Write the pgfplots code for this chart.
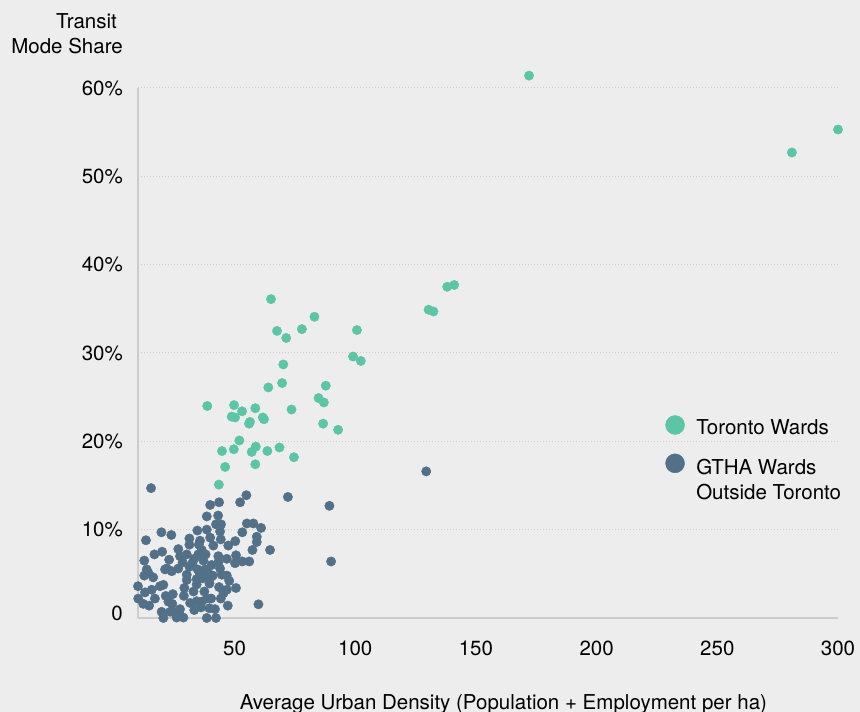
\documentclass[border=0pt]{standalone}
\usepackage{fontspec}
\setmainfont{TeX Gyre Heros}
\usepackage{pgfplots}
\pgfplotsset{compat=1.18}
\definecolor{bg}{HTML}{EDEDED}
\definecolor{tgreen}{HTML}{5CC5A5}
\definecolor{gdark}{HTML}{527087}
\definecolor{axgray}{HTML}{CCCCCC}
\definecolor{gridgray}{HTML}{CFCFCF}
\newcommand{\chartfont}{\fontsize{20.5}{25}\selectfont}
\begin{document}
\begin{tikzpicture}
\useasboundingbox[fill=bg] (-138pt,-94pt) rectangle (722pt,618pt);
\begin{axis}[
  at={(0pt,0pt)}, anchor=south west,
  scale only axis, width=700pt, height=530pt,
  xmin=10, xmax=300, ymin=0, ymax=60,
  clip=false,
  axis lines=left,
  axis line style={-, draw=axgray, line width=1.2pt},
  major tick length=0pt,
  xtick={50,100,150,200,250,300},
  xticklabels={50,100,150,200,250,300},
  ytick={0,10,20,30,40,50,60},
  yticklabels={\raisebox{0pt}[4.7pt][0pt]{0},10\%,20\%,30\%,40\%,50\%,60\%},
  ymajorgrids,
  major grid style={draw=gridgray, line width=1pt, dash pattern=on 1pt off 2pt},
  tick label style={font=\chartfont, text=black},
  xticklabel style={anchor=center, inner sep=0pt, yshift=-30.5pt},
  yticklabel style={anchor=east, inner sep=0pt, xshift=-15pt},
  xlabel={Average Urban Density (Population + Employment per ha)},
  ylabel={Transit\hspace*{6pt}\\Mode Share},
  every axis x label/.style={at={(rel axis cs:0.522,0)}, anchor=base, yshift=-91pt, inner sep=0pt, font=\chartfont},
  every axis y label/.style={at={(rel axis cs:0,1)}, anchor=north east, xshift=-15pt, yshift=74.7pt, align=right, inner sep=0pt, font=\chartfont},
]
% Toronto Wards
\addplot[only marks, mark=*, color=tgreen, mark size=4.7pt, mark options={draw=none, fill=tgreen}] coordinates {
(65.1,36.1) (67.6,32.5) (71.4,31.7) (77.9,32.7) (83.1,34.1) (100.7,32.6)
(99.1,29.6) (102.3,29.1) (70.2,28.7) (69.7,26.6) (64.0,26.1) (87.8,26.3)
(84.8,24.9) (87.0,24.4) (38.7,24.0) (49.8,24.1) (53.1,23.4) (58.6,23.75)
(73.6,23.6) (48.8,22.8) (50.2,22.7) (61.7,22.7) (62.2,22.5) (56.4,22.2)
(56.0,22.0) (86.7,22.0) (92.9,21.3) (52.0,20.1) (44.8,18.9) (49.7,19.1)
(57.1,18.8) (58.8,19.4) (63.6,18.9) (68.6,19.3) (74.6,18.2) (46.1,17.1)
(58.6,17.4) (43.5,15.1) (130.4,34.9) (132.4,34.7) (138.1,37.5) (141.0,37.7)
(172.0,61.4) (280.9,52.7) (300.0,55.3)
};
% GTHA Wards Outside Toronto
\addplot[only marks, mark=*, color=gdark, mark size=4.7pt, mark options={draw=none, fill=gdark}] coordinates {
(15.4,14.7) (54.9,13.9) (72.1,13.7) (89.3,12.7) (52.3,13.1) (43.6,13.1)
(39.9,12.8) (43.2,11.6) (38.5,11.5) (42.3,10.6) (44.4,10.6) (55.1,10.7)
(57.8,10.7) (61.0,10.2) (34.6,9.9) (38.5,10.0) (44.0,9.8) (53.2,9.7)
(19.7,9.7) (23.8,9.4) (31.3,9.0) (35.7,8.75) (39.9,9.1) (44.3,8.9)
(59.2,9.2) (59.2,8.6) (50.3,8.7) (13.3,8.8) (31.3,8.3) (35.2,8.3)
(41.2,8.2) (47.4,8.2) (64.7,7.7) (57.4,7.7) (26.7,7.8) (36.4,7.7)
(20.0,7.5) (16.8,7.2) (30.2,7.2) (33.3,6.7) (37.1,6.5) (43.3,7.0)
(50.6,7.1) (12.6,6.5) (22.9,6.6) (27.4,7.0) (43.3,6.3) (46.8,6.7)
(50.2,6.2) (53.2,6.4) (56.1,6.4) (90.0,6.4) (21.9,5.6) (26.7,5.6)
(31.3,5.8) (34.7,5.5) (37.8,5.5) (44.0,5.6) (13.6,5.5) (14.3,5.1)
(12.6,4.8) (16.3,4.6) (21.2,5.5) (24.0,5.3) (30.2,4.9) (35.7,5.0)
(39.1,5.1) (44.7,4.9) (46.8,4.8) (30.2,4.3) (34.3,4.4) (36.8,4.5)
(39.6,4.3) (47.8,4.2) (10.0,3.6) (19.1,3.6) (20.5,3.75) (15.7,3.2)
(12.9,2.9) (29.2,3.4) (34.3,3.8) (39.6,3.9) (43.6,3.5) (46.8,3.2)
(50.6,3.4) (45.4,2.8) (44.3,2.2) (10.1,2.2) (17.0,2.2) (21.5,2.5)
(24.4,2.7) (12.2,1.6) (14.6,1.4) (22.6,1.85) (24.2,1.6) (31.6,1.7)
(34.3,1.9) (36.4,1.85) (38.5,2.2) (40.3,2.2) (33.3,0.9) (36.1,1.2)
(39.6,1.1) (41.9,1.0) (47.2,1.4) (59.9,1.55) (19.8,0.7) (23.3,0.7)
(27.4,1.0) (20.5,0.0) (26.0,0.05) (28.8,0.05) (38.5,0.0) (42.3,0.0)
(24.6,0.7) (27.1,0.5) (129.4,16.6)
(32.5,6.2) (35.0,7.2) (38.0,7.2) (40.5,6.0) (33.0,3.0) (37.5,3.0)
(41.0,4.8) (28.5,6.3) (29.0,2.5)
};
% legend keys
\addplot[only marks, mark=*, color=tgreen, mark size=9.5pt, mark options={draw=none, fill=tgreen}, forget plot] coordinates {(232.5,21.85)};
\addplot[only marks, mark=*, color=gdark, mark size=9.5pt, mark options={draw=none, fill=gdark}, forget plot] coordinates {(232.5,17.51)};
\node[anchor=base west, inner sep=0pt, font=\chartfont] at (axis cs:241.2,20.72) {Toronto Wards};
\node[anchor=base west, inner sep=0pt, font=\chartfont] at (axis cs:241.2,16.25) {GTHA Wards};
\node[anchor=base west, inner sep=0pt, font=\chartfont] at (axis cs:241.2,13.47) {Outside Toronto};
\end{axis}
\end{tikzpicture}
\end{document}
